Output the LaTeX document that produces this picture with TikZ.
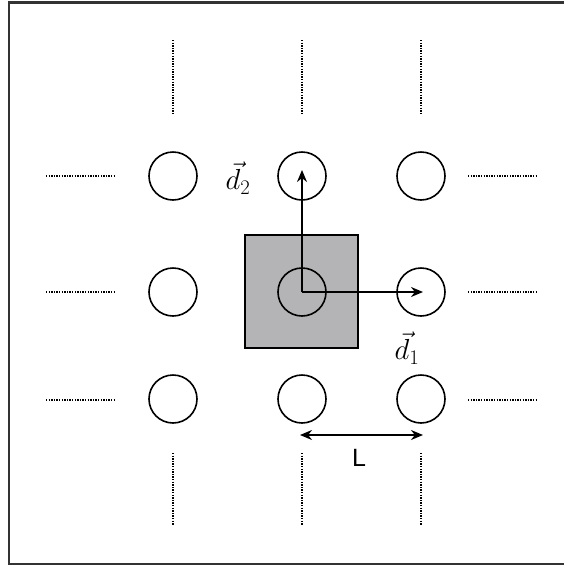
\documentclass[tikz,border=0pt]{standalone}
\usepackage{fontspec}
\newfontfamily\lensf{Liberation Sans}
\DeclareFontShape{OML}{cmm}{m}{it}{<-11>cmmi10 <11->cmmi12}{\skewchar\font=127}
\usetikzlibrary{arrows.meta}
\definecolor{cellfill}{HTML}{B4B4B6}
\definecolor{framecol}{HTML}{333333}

\begin{document}
\begin{tikzpicture}[x=1pt,y=-1pt,
  site/.style={draw,circle,minimum size=48pt,inner sep=0pt,line width=1.6pt},
  cell/.style={draw,fill=cellfill,line width=1.5pt,minimum width=113pt,minimum height=113pt},
  vec/.style={-{Stealth[length=12pt,width=10pt]},line width=1.5pt},
  dots/.style={line width=1.5pt,dash pattern=on 1.3pt off 1.3pt},
  lab/.style={font=\fontsize{29}{33}\selectfont}]
  \useasboundingbox (0,0) rectangle (564,566);
  \draw[framecol,line width=2.4pt] (600,2.5) -- (9,2.5) -- (9,564) -- (600,564);
  % unit cell
  \node[cell] (cell) at (301.5,291.5) {};
  % lattice sites
  \foreach \r/\y in {1/176,2/292,3/399}
    \foreach \c/\x in {1/173,2/302,3/421}
      \node[site] (s\r\c) at (\x,\y) {};
  % lattice continues
  \foreach \x in {173,302,421} {
    \draw[dots] (\x,40) -- (\x,113);
    \draw[dots] (\x,453) -- (\x,525);
  }
  \foreach \y in {176,292,400} {
    \draw[dots] (46,\y) -- (115,\y);
    \draw[dots] (468,\y) -- (537,\y);
  }
  % basis vectors
  \draw[vec] (s22.center) -- ([yshift=6pt]s12.center);
  \draw[vec] (s22.center) -- ([xshift=2pt]s23.center);
  \node[lab] (d2) at (238,178) {$\vec{d}_2$};
  \node[lab] (d1) at (407,348) {$\vec{d}_1$};
  % spacing
  \draw[{Stealth[length=12pt,width=10pt]}-{Stealth[length=12pt,width=10pt]},line width=1.5pt]
    ([xshift=-2pt,yshift=-36pt]s32.center) -- ([xshift=2pt,yshift=-36pt]s33.center);
  \node[font=\lensf\fontsize{25}{28}\selectfont] (len) at (359,458) {L};
\end{tikzpicture}
\end{document}
